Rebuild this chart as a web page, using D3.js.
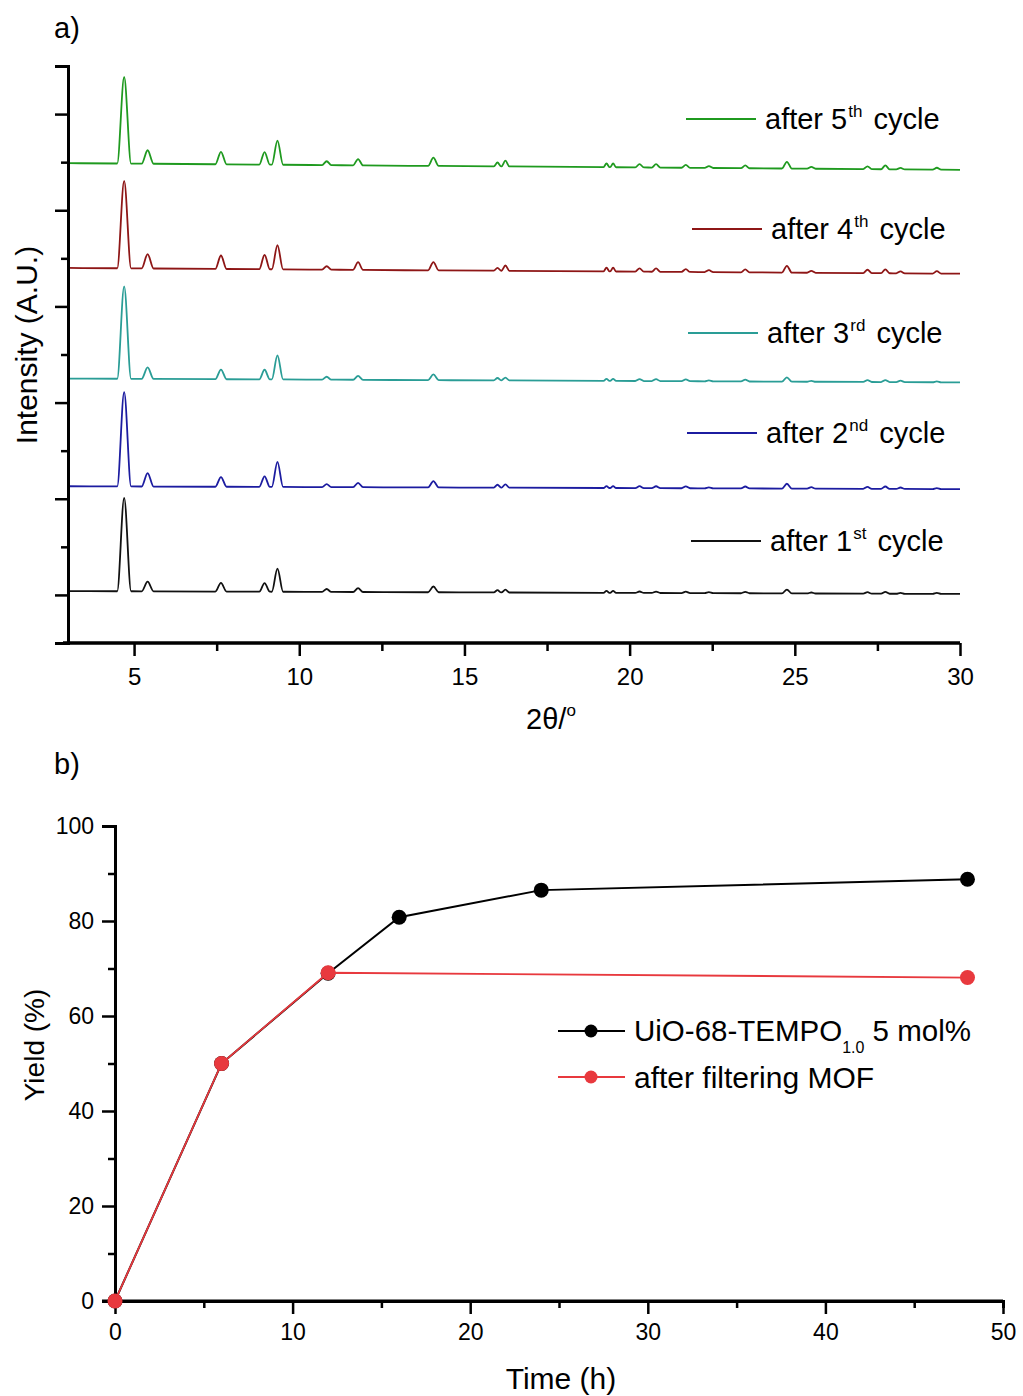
<!DOCTYPE html>
<html>
<head>
<meta charset="utf-8">
<script src="https://cdn.jsdelivr.net/npm/d3@7"></script>
<style>
  body { margin: 0; background: #fff; }
  svg text { font-family: "Liberation Sans", Arial, sans-serif; fill: #000; }
</style>
</head>
<body>
<div id="chart"></div>
<script>
// ---- panel a: XRD patterns after each cycle ----
// peak positions (2theta) shared by all patterns
var peakPos = [4.70, 5.41, 7.63, 8.95, 9.34, 10.83, 11.78, 14.06, 16.0, 16.24, 19.3, 19.5, 20.3, 20.8, 21.7, 22.4, 23.5, 24.76, 25.5, 27.2, 27.74, 28.2, 29.3];
var peakHalfWidth = [0.21, 0.18, 0.17, 0.16, 0.17, 0.14, 0.15, 0.16, 0.11, 0.12, 0.09, 0.09, 0.13, 0.13, 0.13, 0.13, 0.13, 0.15, 0.13, 0.13, 0.13, 0.13, 0.13];

var cycleLabels = ["1", "2", "3", "4", "5"];
var cycleSuffix = ["st", "nd", "rd", "th", "th"];
var cycleColors = ["#111111", "#1c1ca0", "#2a9d96", "#8e1616", "#1f9a1f"];
// baseline at 2theta = 3 and at 2theta = 30 (A.U.)
var baseStart = [0.04, 1.13, 2.25, 3.40, 4.49];
var baseEnd = [0.01, 1.10, 2.21, 3.34, 4.42];
// peak heights above baseline, one list per cycle
var heights1 = [0.97, 0.10, 0.09, 0.09, 0.24, 0.03, 0.04, 0.06, 0.025, 0.03, 0.02, 0.02, 0.015, 0.015, 0.015, 0.01, 0.015, 0.04, 0.01, 0.015, 0.02, 0.01, 0.01];
var heights2 = [0.98, 0.14, 0.10, 0.11, 0.26, 0.03, 0.045, 0.065, 0.03, 0.035, 0.02, 0.02, 0.02, 0.02, 0.02, 0.01, 0.02, 0.05, 0.015, 0.02, 0.025, 0.015, 0.01];
var heights3 = [0.96, 0.12, 0.10, 0.10, 0.25, 0.03, 0.04, 0.06, 0.025, 0.03, 0.02, 0.02, 0.02, 0.02, 0.02, 0.01, 0.02, 0.045, 0.01, 0.02, 0.02, 0.015, 0.01];
var heights4 = [0.91, 0.15, 0.14, 0.15, 0.25, 0.035, 0.08, 0.085, 0.03, 0.055, 0.04, 0.04, 0.035, 0.035, 0.03, 0.02, 0.03, 0.07, 0.02, 0.035, 0.04, 0.02, 0.025];
var heights5 = [0.90, 0.14, 0.13, 0.13, 0.25, 0.04, 0.065, 0.085, 0.04, 0.06, 0.04, 0.04, 0.035, 0.035, 0.03, 0.02, 0.03, 0.07, 0.02, 0.03, 0.04, 0.015, 0.02];
var allHeights = [heights1, heights2, heights3, heights4, heights5];

// ---- panel b: yield vs time ----
var timeMof = [0, 6, 12, 16, 24, 48];
var yieldMof = [0, 50, 69, 80.8, 86.5, 88.8];
var timeFiltered = [0, 6, 12, 48];
var yieldFiltered = [0, 50, 69.1, 68.1];

var svg = d3.select("#chart").append("svg")
    .attr("width", 1023)
    .attr("height", 1396);

// ================= panel a =================
var xa = d3.scaleLinear().domain([3, 30]).range([68, 960]);
var ya = d3.scaleLinear().domain([-0.5, 5.5]).range([643, 66]);

var ga = svg.append("g");

var line = d3.line()
    .x(function(d) { return xa(d[0]); })
    .y(function(d) { return ya(d[1]); })
    .curve(d3.curveMonotoneX);

allHeights.forEach(function(h, k) {
    var base = d3.scaleLinear().domain([3, 30]).range([baseStart[k], baseEnd[k]]);
    var pts = [[3, base(3)]];
    peakPos.forEach(function(p, i) {
        var hw = peakHalfWidth[i];
        pts.push([p - hw, base(p - hw)]);
        pts.push([p, base(p) + h[i]]);
        pts.push([p + hw, base(p + hw)]);
    });
    pts.push([30, base(30)]);
    ga.append("path")
        .datum(pts)
        .attr("d", line)
        .attr("fill", "none")
        .attr("stroke", cycleColors[k])
        .attr("stroke-width", 1.8)
        .attr("stroke-linejoin", "round");
});

// axes a
var xaMajor = ga.append("g")
    .attr("transform", "translate(0,643)")
    .call(d3.axisBottom(xa).tickValues([5, 10, 15, 20, 25, 30]).tickSize(13).tickPadding(12));
var xaMinor = ga.append("g")
    .attr("transform", "translate(0,643)")
    .call(d3.axisBottom(xa).tickValues([7.5, 12.5, 17.5, 22.5, 27.5]).tickSize(8).tickFormat(""));
var yaMajor = ga.append("g")
    .attr("transform", "translate(68,0)")
    .call(d3.axisLeft(ya).tickValues([0, 1, 2, 3, 4, 5]).tickSize(13).tickFormat(""));
var yaMinor = ga.append("g")
    .attr("transform", "translate(68,0)")
    .call(d3.axisLeft(ya).tickValues([-0.5, 0.5, 1.5, 2.5, 3.5, 4.5, 5.5]).tickSize(7).tickFormat(""));

[xaMajor, xaMinor, yaMajor, yaMinor].forEach(function(a) {
    a.select(".domain").attr("stroke", "#000").attr("stroke-width", 3);
    a.selectAll(".tick line").attr("stroke", "#000").attr("stroke-width", 2.5);
    a.selectAll(".tick text").style("font-size", "24px").attr("font-family", null);
});
xaMajor.select(".domain").attr("d", "M63,0H960");
xaMinor.select(".domain").attr("d", "M63,0H960");

// legend a
var legA = ga.selectAll(".legA")
    .data([4, 3, 2, 1, 0])
    .enter().append("g")
    .attr("class", "legA");
var legAY = [119, 229, 333, 433, 541];
var legAX = [686, 692, 688, 687, 691];
legA.append("line")
    .attr("x1", function(d, i) { return legAX[i]; })
    .attr("x2", function(d, i) { return legAX[i] + 70; })
    .attr("y1", function(d, i) { return legAY[i]; })
    .attr("y2", function(d, i) { return legAY[i]; })
    .attr("stroke", function(d) { return cycleColors[d]; })
    .attr("stroke-width", 1.8);
var legAText = legA.append("text")
    .attr("x", function(d, i) { return legAX[i] + 79; })
    .attr("y", function(d, i) { return legAY[i] + 10; })
    .style("font-size", "29px");
legAText.append("tspan").text(function(d) { return "after " + cycleLabels[d]; });
legAText.append("tspan").attr("dx", 1).attr("dy", -12).style("font-size", "17px").text(function(d) { return cycleSuffix[d]; });
legAText.append("tspan").attr("dx", 3).attr("dy", 12).text(" cycle");

ga.append("text")
    .attr("x", 54).attr("y", 38)
    .style("font-size", "29px")
    .text("a)");

ga.append("text")
    .attr("transform", "translate(37,345) rotate(-90)")
    .attr("text-anchor", "middle")
    .style("font-size", "30px")
    .text("Intensity (A.U.)");

var thetaLabel = ga.append("text")
    .attr("x", 551).attr("y", 729)
    .attr("text-anchor", "middle")
    .style("font-size", "29px");
thetaLabel.append("tspan").text("2θ/");
thetaLabel.append("tspan").attr("dy", -13).style("font-size", "17px").text("o");

// ================= panel b =================
var xb = d3.scaleLinear().domain([0, 50]).range([115, 1003]);
var yb = d3.scaleLinear().domain([0, 100]).range([1301, 826]);

var gb = svg.append("g");

var xbMajor = gb.append("g")
    .attr("transform", "translate(0,1301)")
    .call(d3.axisBottom(xb).tickValues([0, 10, 20, 30, 40, 50]).tickSize(13).tickPadding(10));
var xbMinor = gb.append("g")
    .attr("transform", "translate(0,1301)")
    .call(d3.axisBottom(xb).tickValues([5, 15, 25, 35, 45]).tickSize(7).tickFormat(""));
var ybMajor = gb.append("g")
    .attr("transform", "translate(115,0)")
    .call(d3.axisLeft(yb).tickValues([0, 20, 40, 60, 80, 100]).tickSize(13).tickPadding(8));
var ybMinor = gb.append("g")
    .attr("transform", "translate(115,0)")
    .call(d3.axisLeft(yb).tickValues([10, 30, 50, 70, 90]).tickSize(7).tickFormat(""));

[xbMajor, xbMinor, ybMajor, ybMinor].forEach(function(a) {
    a.select(".domain").attr("stroke", "#000").attr("stroke-width", 3);
    a.selectAll(".tick line").attr("stroke", "#000").attr("stroke-width", 2.5);
    a.selectAll(".tick text").style("font-size", "23px").attr("font-family", null);
});
xbMajor.select(".domain").attr("d", "M102,0H1003");

var lineB = d3.line()
    .x(function(d) { return xb(d[0]); })
    .y(function(d) { return yb(d[1]); });

var mofPts = timeMof.map(function(t, i) { return [t, yieldMof[i]]; });
var filtPts = timeFiltered.map(function(t, i) { return [t, yieldFiltered[i]]; });

gb.append("path").datum(mofPts)
    .attr("d", lineB).attr("fill", "none")
    .attr("stroke", "#000").attr("stroke-width", 2);
gb.selectAll(".dotMof").data(mofPts).enter().append("circle")
    .attr("class", "dotMof")
    .attr("cx", function(d) { return xb(d[0]); })
    .attr("cy", function(d) { return yb(d[1]); })
    .attr("r", 7.5).attr("fill", "#000");

gb.append("path").datum(filtPts)
    .attr("d", lineB).attr("fill", "none")
    .attr("stroke", "#e8393e").attr("stroke-width", 1.8);
gb.selectAll(".dotFilt").data(filtPts).enter().append("circle")
    .attr("class", "dotFilt")
    .attr("cx", function(d) { return xb(d[0]); })
    .attr("cy", function(d) { return yb(d[1]); })
    .attr("r", 7.5).attr("fill", "#e8393e");

// legend b
var legB = gb.selectAll(".legB")
    .data([{c: "#000", y: 1031}, {c: "#e8393e", y: 1077}])
    .enter().append("g").attr("class", "legB");
legB.append("line")
    .attr("x1", 558).attr("x2", 625)
    .attr("y1", function(d) { return d.y; }).attr("y2", function(d) { return d.y; })
    .attr("stroke", function(d) { return d.c; }).attr("stroke-width", 2);
legB.append("circle")
    .attr("cx", 591).attr("cy", function(d) { return d.y; })
    .attr("r", 6.5).attr("fill", function(d) { return d.c; });

var l1 = gb.append("text").attr("x", 634).attr("y", 1041).style("font-size", "29.5px");
l1.append("tspan").text("UiO-68-TEMPO");
l1.append("tspan").attr("dy", 12).style("font-size", "16px").text("1.0");
l1.append("tspan").attr("dy", -12).text(" 5 mol%");
gb.append("text").attr("x", 634).attr("y", 1088).style("font-size", "30px").text("after filtering MOF");

gb.append("text")
    .attr("x", 54).attr("y", 774)
    .style("font-size", "29px")
    .text("b)");

gb.append("text")
    .attr("transform", "translate(44,1045) rotate(-90)")
    .attr("text-anchor", "middle")
    .style("font-size", "28px")
    .text("Yield (%)");

gb.append("text")
    .attr("x", 561).attr("y", 1389)
    .attr("text-anchor", "middle")
    .style("font-size", "30px")
    .text("Time (h)");
</script>
</body>
</html>
